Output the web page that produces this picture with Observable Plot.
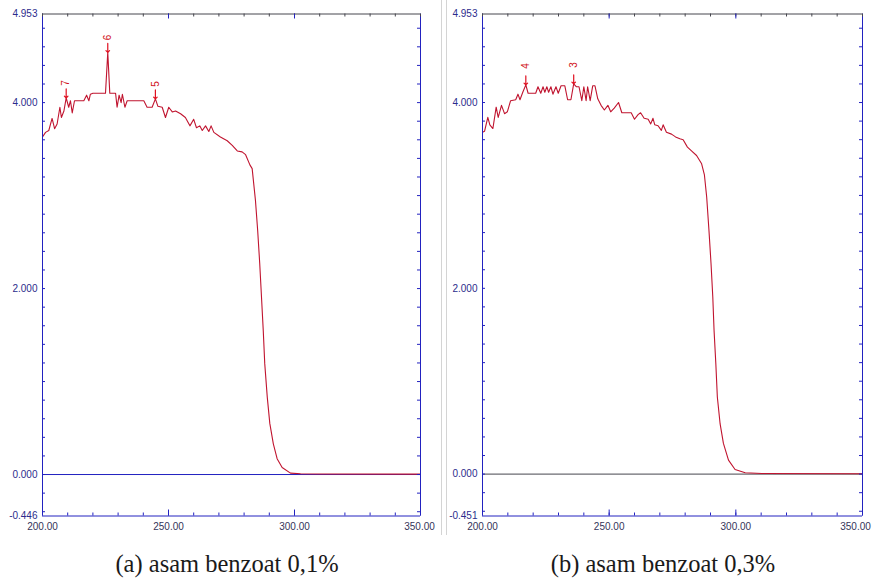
<!DOCTYPE html>
<html><head><meta charset="utf-8">
<script src="https://cdn.jsdelivr.net/npm/d3@7"></script>
<script src="https://cdn.jsdelivr.net/npm/@observablehq/plot@0.6"></script>
<style>
html,body{margin:0;padding:0;background:#fff;}
#wrap{position:relative;width:872px;height:579px;overflow:hidden;background:#fff;}
.panel{position:absolute;top:0;}
.cap{position:absolute;top:552px;width:440px;text-align:center;font-family:"Liberation Serif","Times New Roman",serif;font-size:24.5px;line-height:1;color:#1a1a1a;white-space:nowrap;}
.sep{position:absolute;top:0;height:535px;width:1px;background:#d4d4d4;}
</style></head><body>
<div id="wrap">
<div id="pa" class="panel" style="left:0"></div>
<div id="pb" class="panel" style="left:440px"></div>
<div class="sep" style="left:441px"></div>
<div class="sep" style="left:446px"></div>
<div class="cap" style="left:7px">(a) asam benzoat 0,1%</div>
<div class="cap" style="left:443px">(b) asam benzoat 0,3%</div>
</div>
<script>
// ---- data: (a) asam benzoat 0,1%
const wlA = [200.0,201.2,202.5,203.8,204.8,205.8,206.9,207.5,208.5,209.4,210.4,211.1,211.8,212.7,216.4,217.5,218.4,219.0,220.0,225.0,225.9,226.7,229.0,229.6,230.4,231.2,231.7,232.7,233.6,240.2,241.5,243.5,244.8,245.8,247.5,248.8,250.1,251.5,252.8,254.8,256.7,258.5,260.0,261.1,262.4,263.4,264.7,266.0,266.9,268.0,270.6,273.3,275.3,277.3,279.2,280.6,282.3,283.2,284.5,285.4,286.2,286.9,287.6,288.2,289.2,290.2,291.6,293.1,295.1,298.4,302.4,310.0,350.0];
const absA = [3.63,3.68,3.70,3.83,3.72,3.77,3.95,3.84,3.91,4.05,3.95,4.02,3.89,4.02,4.02,4.08,4.02,4.09,4.10,4.10,4.54,4.10,4.10,3.95,4.08,4.00,4.09,3.95,4.02,4.02,3.95,3.95,4.04,3.96,3.95,3.84,3.95,3.90,3.91,3.88,3.84,3.75,3.82,3.73,3.75,3.70,3.75,3.69,3.75,3.68,3.63,3.59,3.54,3.48,3.47,3.44,3.33,3.29,2.95,2.62,2.27,1.91,1.55,1.19,0.83,0.55,0.33,0.17,0.075,0.015,0.008,0.005,0.004];
const peakLabelsA = ["7","6","5"];
const peakWlA = [209.4,225.9,244.8];
const peakAbsA = [4.05,4.54,4.04];
const yLabelsA = [-0.446,0,2,4,4.953];

// ---- data: (b) asam benzoat 0,3%
const wlB = [200.0,200.8,202.1,202.9,204.1,205.4,206.2,207.5,208.7,209.8,211.1,213.1,214.0,214.8,215.9,217.1,218.0,221.0,221.9,223.0,223.9,224.6,225.4,226.1,227.0,227.8,229.0,229.9,231.0,232.5,233.6,234.9,236.0,237.0,238.1,239.2,240.0,240.9,241.5,242.5,243.5,244.4,245.5,246.8,248.1,249.5,250.6,252.0,253.7,255.0,258.7,260.0,261.4,262.4,263.8,265.4,266.4,267.3,268.0,269.3,270.6,271.3,272.6,274.6,276.2,277.9,279.2,280.9,282.5,284.5,286.5,287.6,288.5,289.4,290.2,290.9,291.4,292.1,292.7,293.8,295.1,297.1,299.7,303.7,310.3,350.0];
const absB = [3.68,3.69,3.84,3.76,3.72,3.95,3.84,3.97,3.88,3.90,4.02,4.03,4.09,4.03,4.11,4.19,4.10,4.10,4.17,4.10,4.17,4.11,4.17,4.11,4.17,4.09,4.17,4.10,4.18,4.18,4.03,4.03,4.20,4.17,4.17,4.02,4.17,4.02,4.17,4.02,4.18,4.18,4.04,3.97,3.92,3.97,3.90,3.94,4.00,3.89,3.89,3.82,3.87,3.89,3.83,3.82,3.77,3.83,3.76,3.75,3.70,3.76,3.68,3.66,3.63,3.61,3.60,3.52,3.48,3.43,3.34,3.22,2.98,2.62,2.27,1.91,1.55,1.19,0.83,0.54,0.33,0.15,0.05,0.015,0.007,0.004];
const peakLabelsB = ["4","3"];
const peakWlB = [217.1,236.0];
const peakAbsB = [4.19,4.20];
const yLabelsB = [-0.451,0,2,4,4.953];

// ---- shared axis ticks
const xDomain = [200, 350];
const xLabelTicks = [200, 250, 300, 350];
const xMajorTicks = [250, 300];
const xMinorTicks = [200,210,220,230,240,250,260,270,280,290,300,310,320,330,340,350];
const yMinorTicks = [-0.4,-0.2,0,0.2,0.4,0.6,0.8,1.0,1.2,1.4,1.6,1.8,2.0,2.2,2.4,2.6,2.8,3.0,3.2,3.4,3.6,3.8,4.0,4.2,4.4,4.6,4.8];

const BLUE = "#2222c0";
const DARK = "#46464e";
const CURVE = "#c0142f";
const LABEL = "#2c2c8c";
const XLABEL = "#34345a";

function panel(el, {wl, ab, pkT, pkX, pkY, yLabels, zeroColor, width, marginRight, labelDy, lastLabelDx}) {
  const data = wl.map((w, i) => ({w, a: ab[i]}));
  const peaks = pkX.map((x, i) => ({x, y: pkY[i], t: pkT[i]}));
  const H = 540, mL = 42, mT = 13.5, mB = 24.5;
  const pw = width - mL - marginRight, ph = H - mT - mB;
  const yDomain = [yLabels[0], yLabels[yLabels.length - 1]];
  const chart = Plot.plot({
    width, height: H,
    marginLeft: mL, marginRight, marginTop: mT, marginBottom: mB,
    x: {domain: xDomain},
    y: {domain: yDomain},
    style: {fontFamily: "Liberation Sans, Arial, sans-serif", fontSize: "10px", background: "transparent", overflow: "visible"},
    marks: [
      Plot.ruleY([0], {stroke: zeroColor, strokeWidth: 1}),
      Plot.line(data, {x: "w", y: "a", stroke: CURVE, strokeWidth: 1.1}),
      // frame
      Plot.ruleX([xDomain[0]], {stroke: BLUE}),
      Plot.ruleX([xDomain[1]], {stroke: BLUE}),
      Plot.ruleY([yDomain[0]], {stroke: BLUE}),
      Plot.ruleY([yDomain[1]], {stroke: DARK}),
      // inward ticks
      Plot.ruleY(yMinorTicks, {stroke: BLUE, insetRight: pw - 3}),
      Plot.ruleY(yMinorTicks, {stroke: BLUE, insetLeft: pw - 3}),
      Plot.ruleX(xMinorTicks, {stroke: DARK, insetBottom: ph - 3}),
      Plot.ruleX(xMajorTicks, {stroke: BLUE, insetBottom: ph - 5}),
      Plot.ruleX(xMinorTicks, {stroke: BLUE, insetTop: ph - 3}),
      Plot.ruleX(xMajorTicks, {stroke: BLUE, insetTop: ph - 6}),
      // peak markers
      Plot.vector(peaks, {x: "x", y: "y", length: 9, rotate: 180, anchor: "end", stroke: "#e01020", strokeWidth: 1.2}),
      Plot.text(peaks, {x: "x", y: "y", text: "t", dy: -labelDy, rotate: -90, fill: "#d01020", fontSize: 10}),
      // labels
      Plot.axisY(yLabels, {tickSize: 0, tickPadding: 5, tickFormat: d => d.toFixed(3), color: LABEL, fontSize: 10}),
      Plot.axisX(xLabelTicks.slice(0, -1), {tickSize: 0, tickPadding: 7, tickFormat: d => d.toFixed(2), color: XLABEL, fontSize: 10}),
      Plot.axisX(xLabelTicks.slice(-1), {tickSize: 0, tickPadding: 7, dx: lastLabelDx, tickFormat: d => d.toFixed(2), color: XLABEL, fontSize: 10})
    ]
  });
  document.getElementById(el).append(chart);
}

panel("pa", {wl: wlA, ab: absA, pkT: peakLabelsA, pkX: peakWlA, pkY: peakAbsA, yLabels: yLabelsA, zeroColor: BLUE, width: 440, marginRight: 20, labelDy: 15, lastLabelDx: -1});
panel("pb", {wl: wlB, ab: absB, pkT: peakLabelsB, pkX: peakWlB, pkY: peakAbsB, yLabels: yLabelsB, zeroColor: DARK, width: 432, marginRight: 10, labelDy: 19, lastLabelDx: -7});
</script>
</body></html>
